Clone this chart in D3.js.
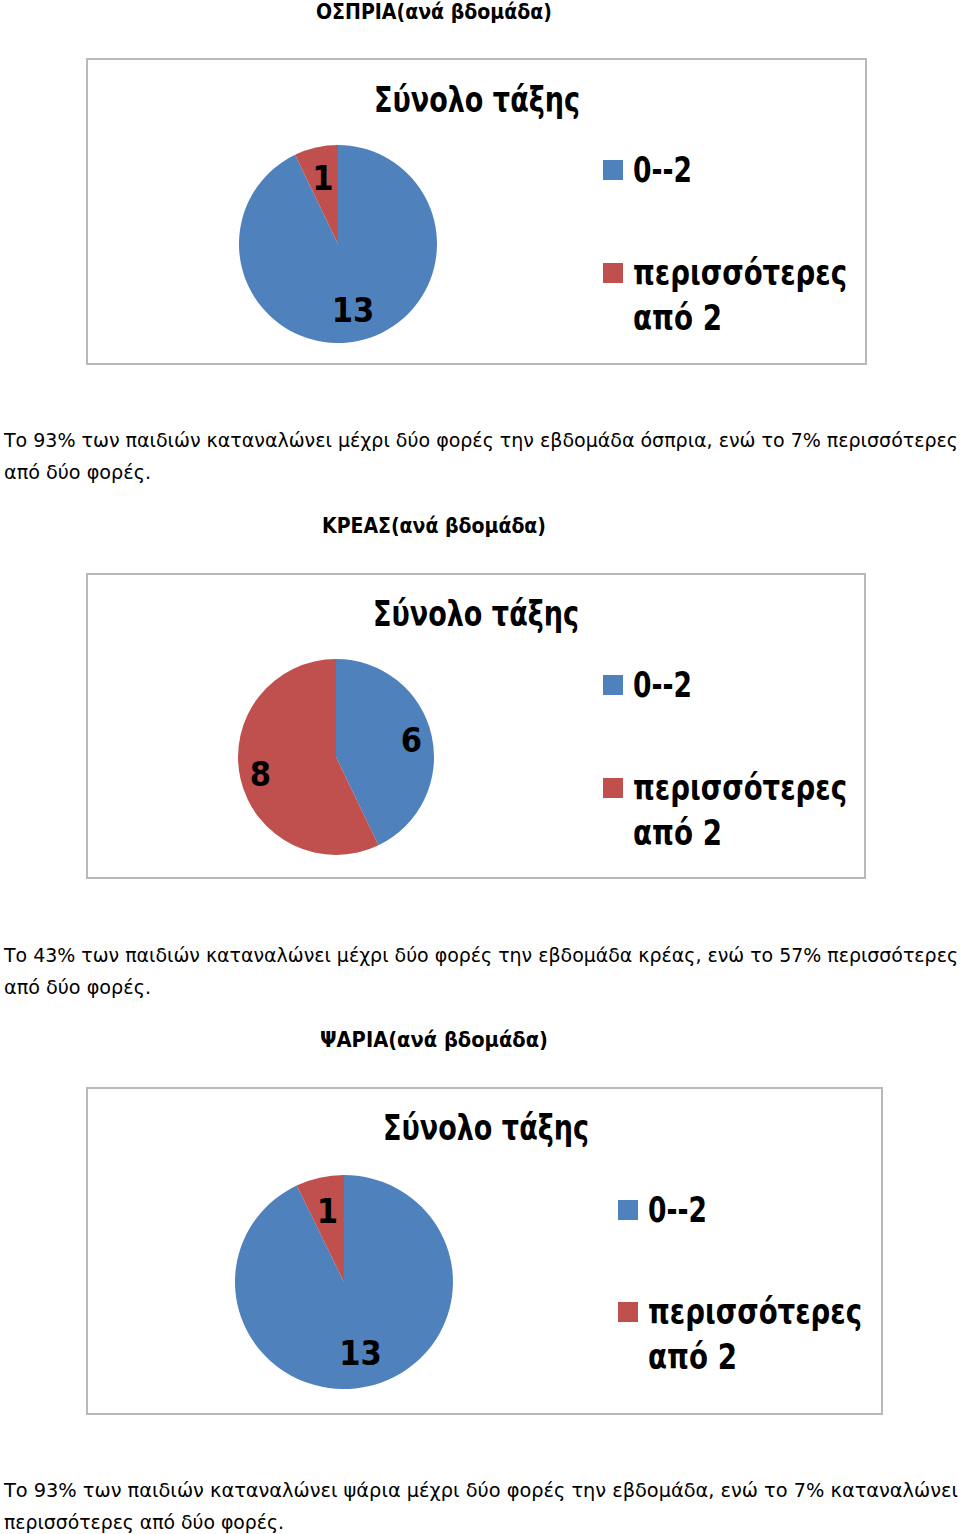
<!DOCTYPE html>
<html>
<head>
<meta charset="utf-8">
<script src="https://cdn.jsdelivr.net/npm/d3@7"></script>
<style>
  body { margin: 0; background: #fff; }
  svg text { font-family: "DejaVu Sans Condensed", "Liberation Sans Narrow", "Liberation Sans", sans-serif; fill: #000; }
  .bold { font-weight: bold; }
</style>
</head>
<body>
<div id="page"></div>
<script>
// data
var categories = ["0--2", "περισσότερες από 2"];
var chartTitles = ["ΟΣΠΡΙΑ(ανά βδομάδα)", "ΚΡΕΑΣ(ανά βδομάδα)", "ΨΑΡΙΑ(ανά βδομάδα)"];
var ospriaValues = [13, 1];
var kreasValues = [6, 8];
var psariaValues = [13, 1];
var paragraphs = [
  ["Το 93% των παιδιών καταναλώνει μέχρι δύο φορές την εβδομάδα όσπρια, ενώ το 7% περισσότερες", "από δύο φορές."],
  ["Το 43% των παιδιών καταναλώνει μέχρι δύο φορές την εβδομάδα κρέας, ενώ το 57% περισσότερες", "από δύο φορές."],
  ["Το 93% των παιδιών καταναλώνει ψάρια  μέχρι δύο φορές την εβδομάδα, ενώ το 7% καταναλώνει", "περισσότερες από δύο φορές."]
];
var innerTitle = "Σύνολο τάξης";

var colors = ["#4F81BD", "#C0504D"];

// layout of each block on the page
var layout = [
  { titleY: 19, titleW: 236, box: [87, 59, 779, 305], cx: 338, cy: 244, rx: 99, ry: 99, labelR: 0.68, innerX: 477, innerY: 112, legX: 603, legY: [170, 273], parY: [447, 479], par2W: 147 },
  { titleY: 533, titleW: 224, box: [87, 574, 778, 304], cx: 336, cy: 757, rx: 98, ry: 98, labelR: 0.79, innerX: 476, innerY: 626, legX: 603, legY: [685, 788], parY: [962, 994], par2W: 147 },
  { titleY: 1047, titleW: 228, box: [87, 1088, 795, 326], cx: 344, cy: 1282, rx: 109, ry: 107, labelR: 0.68, innerX: 486, innerY: 1140, legX: 618, legY: [1210, 1312], parY: [1497, 1529], par2W: 280 }
];
var legendW = [[59], [214, 89]];
var series = [ospriaValues, kreasValues, psariaValues];

var svg = d3.select("#page").append("svg")
  .attr("width", 960)
  .attr("height", 1534);

var pie = d3.pie().sort(null).value(function(d) { return d; });

series.forEach(function(values, i) {
  var L = layout[i];
  var g = svg.append("g");

  // heading above the chart
  g.append("text")
    .attr("class", "bold")
    .attr("x", 434)
    .attr("y", L.titleY)
    .attr("text-anchor", "middle")
    .attr("textLength", L.titleW)
    .attr("lengthAdjust", "spacingAndGlyphs")
    .style("font-size", "22px")
    .text(chartTitles[i]);

  // chart frame
  g.append("rect")
    .attr("x", L.box[0]).attr("y", L.box[1])
    .attr("width", L.box[2]).attr("height", L.box[3])
    .attr("fill", "#fff")
    .attr("stroke", "#b9b9b9")
    .attr("stroke-width", 2);

  g.append("text")
    .attr("class", "bold")
    .attr("x", L.innerX)
    .attr("y", L.innerY)
    .attr("text-anchor", "middle")
    .attr("textLength", 206)
    .attr("lengthAdjust", "spacingAndGlyphs")
    .style("font-size", "36px")
    .text(innerTitle);

  // pie
  var arcs = pie(values);
  var arc = d3.arc().innerRadius(0).outerRadius(1);
  var pg = g.append("g")
    .attr("transform", "translate(" + L.cx + "," + L.cy + ") scale(" + L.rx + "," + L.ry + ")");
  pg.selectAll("path")
    .data(arcs)
    .enter().append("path")
    .attr("d", arc)
    .attr("fill", function(d, j) { return colors[j]; });

  var labelArc = d3.arc().innerRadius(L.labelR).outerRadius(L.labelR);
  g.selectAll(".lbl")
    .data(arcs)
    .enter().append("text")
    .attr("class", "bold")
    .attr("text-anchor", "middle")
    .attr("dominant-baseline", "central")
    .style("font-size", "34px")
    .attr("x", function(d) { return L.cx + labelArc.centroid(d)[0] * L.rx; })
    .attr("y", function(d) { return L.cy + labelArc.centroid(d)[1] * L.ry; })
    .text(function(d) { return d.data; });

  // legend
  categories.forEach(function(c, j) {
    g.append("rect")
      .attr("x", L.legX).attr("y", L.legY[j] - 10)
      .attr("width", 20).attr("height", 20)
      .attr("fill", colors[j]);
    var words = c === "0--2" ? [c] : ["περισσότερες", "από 2"];
    words.forEach(function(w, k) {
      g.append("text")
        .attr("class", "bold")
        .attr("x", L.legX + 30)
        .attr("y", L.legY[j] + 12 + k * 45)
        .attr("textLength", legendW[j][k])
        .attr("lengthAdjust", "spacingAndGlyphs")
        .style("font-size", "35px")
        .text(w);
    });
  });

  // paragraph under the chart
  paragraphs[i].forEach(function(line, k) {
    g.append("text")
      .attr("x", 4)
      .attr("y", L.parY[k])
      .attr("textLength", k === 0 ? 954 : L.par2W)
      .attr("lengthAdjust", "spacingAndGlyphs")
      .style("font-size", "20px")
      .text(line);
  });
});
</script>
</body>
</html>
